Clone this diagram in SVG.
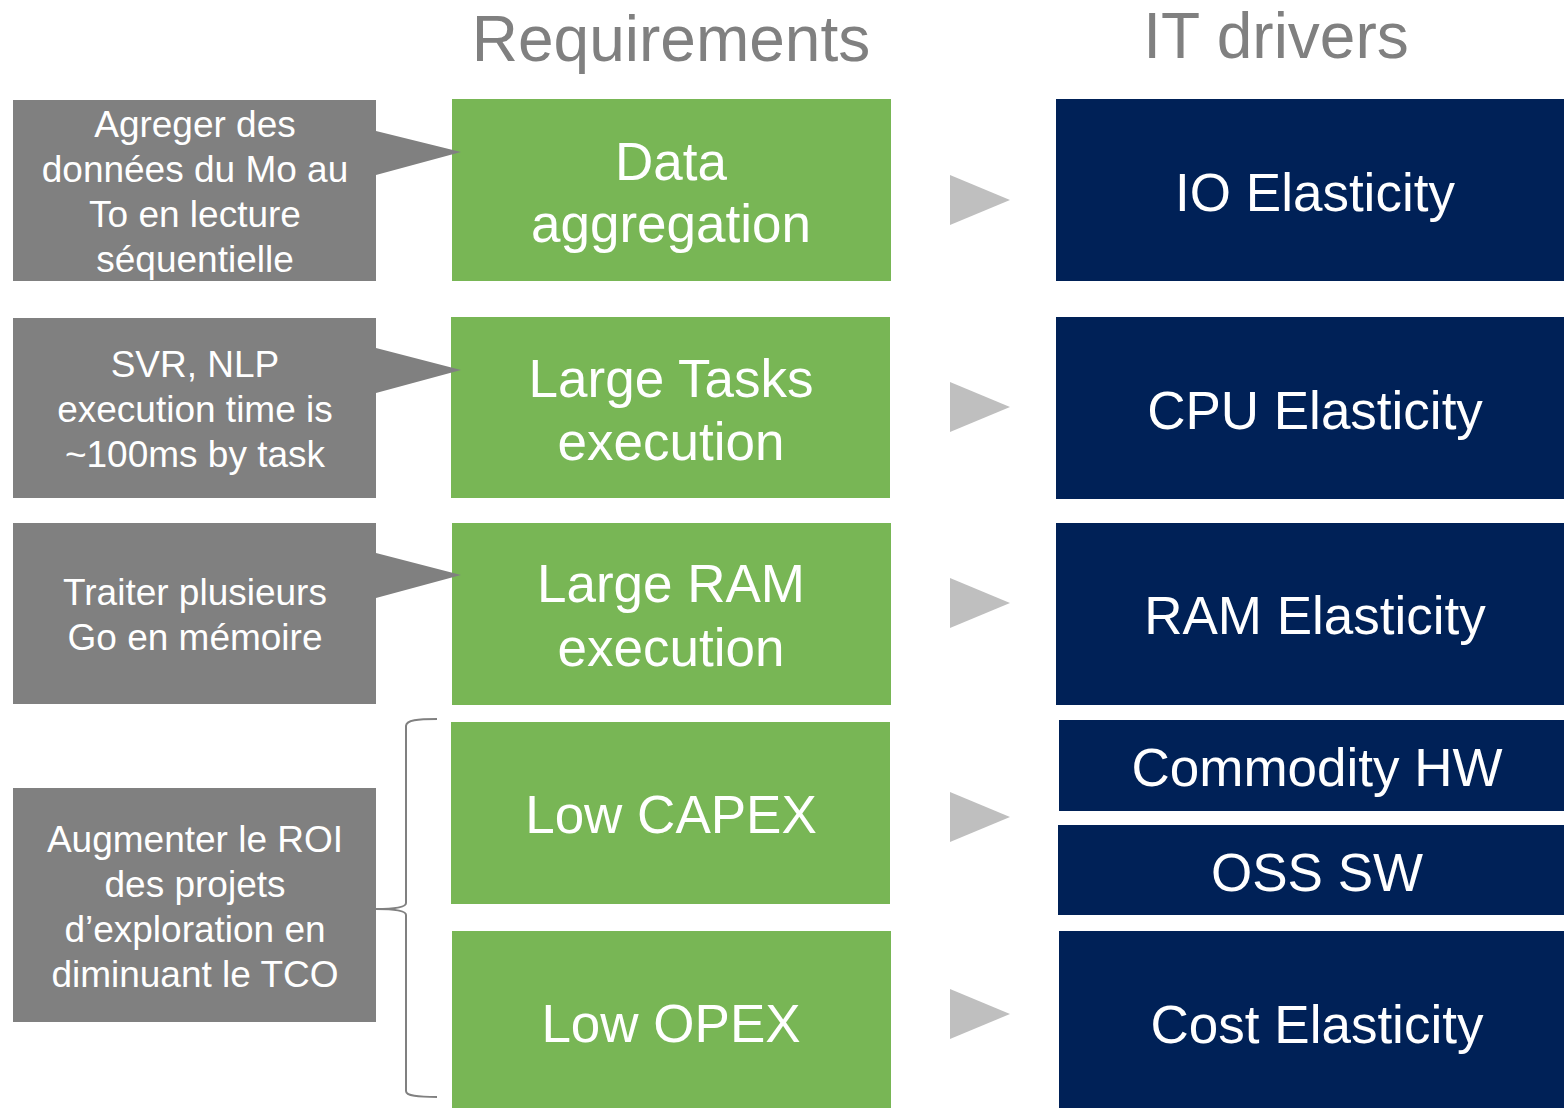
<svg xmlns="http://www.w3.org/2000/svg" width="1564" height="1108" viewBox="0 0 1564 1108">
<style>
.t{font-family:"Liberation Sans",Arial,sans-serif;text-anchor:middle}
.title{fill:#808080;font-size:64px}
.g{fill:#78b655}
.b{fill:#002157}
.c{fill:#808080}
.gt{fill:#ffffff;font-size:53px}
.bt{fill:#ffffff;font-size:53px}
.ct{fill:#ffffff;font-size:37px}
.arr{fill:#bfbfbf}
</style>
<rect width="1564" height="1108" fill="#ffffff"/>
<text class="t title" x="671" y="61">Requirements</text>
<text class="t title" x="1276" y="58">IT drivers</text>

<g id="req1"><rect class="g" x="452" y="99" width="439" height="182"/><text class="t gt"><tspan x="671" y="180">Data</tspan><tspan x="671" y="242">aggregation</tspan></text></g>
<g id="req2"><rect class="g" x="451" y="317" width="439" height="181"/><text class="t gt"><tspan x="671" y="397">Large Tasks</tspan><tspan x="671" y="460">execution</tspan></text></g>
<g id="req3"><rect class="g" x="452" y="523" width="439" height="182"/><text class="t gt"><tspan x="671" y="602">Large RAM</tspan><tspan x="671" y="666">execution</tspan></text></g>
<g id="req4"><rect class="g" x="451" y="722" width="439" height="182"/><text class="t gt" x="671" y="833">Low CAPEX</text></g>
<g id="req5"><rect class="g" x="452" y="931" width="439" height="177"/><text class="t gt" x="671" y="1042">Low OPEX</text></g>

<g id="callout1">
<path class="c" d="M13 100H376V131L461 152L376 175V281H13Z"/>
<text class="t ct"><tspan x="195" y="137">Agreger des</tspan><tspan x="195" y="182">données du Mo au</tspan><tspan x="195" y="227">To en lecture</tspan><tspan x="195" y="272">séquentielle</tspan></text>
</g>
<g id="callout2">
<path class="c" d="M13 318H376V348L461 370L376 393V498H13Z"/>
<text class="t ct"><tspan x="195" y="377">SVR, NLP</tspan><tspan x="195" y="422">execution time is</tspan><tspan x="195" y="467">~100ms by task</tspan></text>
</g>
<g id="callout3">
<path class="c" d="M13 523H376V553L461 575L376 598V704H13Z"/>
<text class="t ct"><tspan x="195" y="605">Traiter plusieurs</tspan><tspan x="195" y="650">Go en mémoire</tspan></text>
</g>
<g id="callout4">
<rect class="c" x="13" y="788" width="363" height="234"/>
<text class="t ct"><tspan x="195" y="852">Augmenter le ROI</tspan><tspan x="195" y="897">des projets</tspan><tspan x="195" y="942">d’exploration en</tspan><tspan x="195" y="987">diminuant le TCO</tspan></text>
</g>

<g id="it1"><rect class="b" x="1056" y="99" width="508" height="182"/><text class="t bt" x="1315" y="211">IO Elasticity</text></g>
<g id="it2"><rect class="b" x="1056" y="317" width="508" height="182"/><text class="t bt" x="1315" y="429">CPU Elasticity</text></g>
<g id="it3"><rect class="b" x="1056" y="523" width="508" height="182"/><text class="t bt" x="1315" y="634">RAM Elasticity</text></g>
<g id="it4"><rect class="b" x="1059" y="720" width="505" height="91"/><text class="t bt" x="1317" y="786">Commodity HW</text></g>
<g id="it5"><rect class="b" x="1058" y="825" width="506" height="90"/><text class="t bt" x="1317" y="891">OSS SW</text></g>
<g id="it6"><rect class="b" x="1059" y="931" width="505" height="177"/><text class="t bt" x="1317" y="1043">Cost Elasticity</text></g>

<g id="connectors">
<path class="arr" d="M950 175L1010 200L950 225Z"/>
<path class="arr" d="M950 382L1010 407L950 432Z"/>
<path class="arr" d="M950 578L1010 603L950 628Z"/>
<path class="arr" d="M950 792L1010 817L950 842Z"/>
<path class="arr" d="M950 989L1010 1014L950 1039Z"/>
<path d="M437 719C418 719 406 720 406 726V903C406 907 396 909 376 909C396 909 406 911 406 915V1091C406 1096 418 1097 437 1097" fill="none" stroke="#808080" stroke-width="2"/>
</g>
</svg>
